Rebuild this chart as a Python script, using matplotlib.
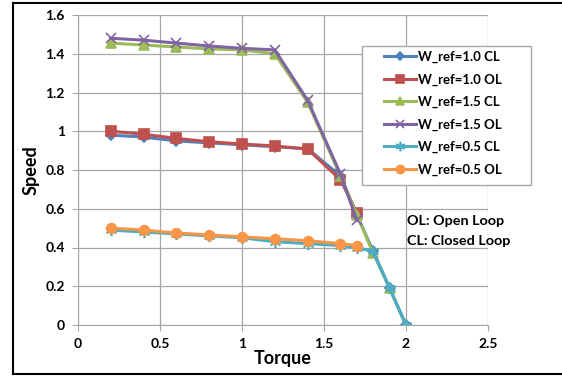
import matplotlib
matplotlib.use("Agg")
import matplotlib.pyplot as plt
from matplotlib.lines import Line2D
from matplotlib.patches import Rectangle

plt.rcParams['font.family'] = ['Lato', 'DejaVu Sans']

# data
torque_long = [0.2, 0.4, 0.6, 0.8, 1.0, 1.2, 1.4, 1.6, 1.7, 1.8, 1.9, 2.0]
torque_short = [0.2, 0.4, 0.6, 0.8, 1.0, 1.2, 1.4, 1.6, 1.7]

w10_cl = [0.98, 0.97, 0.95, 0.94, 0.93, 0.92, 0.91, 0.77, 0.57, 0.38, 0.19, 0.0]
w10_ol = [1.00, 0.985, 0.963, 0.946, 0.934, 0.924, 0.908, 0.75, 0.58]
w15_cl = [1.455, 1.445, 1.435, 1.425, 1.42, 1.40, 1.15, 0.77, 0.57, 0.37, 0.19, 0.0]
w15_ol = [1.48, 1.47, 1.455, 1.44, 1.428, 1.42, 1.16, 0.78, 0.54]
w05_cl = [0.49, 0.48, 0.47, 0.46, 0.45, 0.43, 0.42, 0.41, 0.40, 0.38, 0.19, 0.0]
w05_ol = [0.50, 0.49, 0.475, 0.465, 0.455, 0.445, 0.435, 0.42, 0.41]

series = [
    ("W_ref=1.0 CL", torque_long, w10_cl, "#4F81BD", "D", 5),
    ("W_ref=1.0 OL", torque_short, w10_ol, "#C0504D", "s", 7),
    ("W_ref=1.5 CL", torque_long, w15_cl, "#9BBB59", "^", 7),
    ("W_ref=1.5 OL", torque_short, w15_ol, "#8064A2", "x", 7),
    ("W_ref=0.5 CL", torque_long, w05_cl, "#4BACC6", (6, 2, 0), 8),
    ("W_ref=0.5 OL", torque_short, w05_ol, "#F79646", "o", 7),
]

fig = plt.figure(figsize=(5.62, 3.77), dpi=100)
ax = fig.add_axes([78 / 562, 1 - 325 / 377, 410 / 562, 310 / 377])

handles = []
for label, x, y, color, marker, ms in series:
    h, = ax.plot(x, y, color=color, lw=2.2, marker=marker, markersize=ms,
                 markeredgewidth=1.2, label=label)
    handles.append(h)

ax.set_xlim(0, 2.5)
ax.set_ylim(0, 1.6)
ax.set_xticks([0, 0.5, 1, 1.5, 2, 2.5])
ax.set_xticklabels(["0", "0.5", "1", "1.5", "2", "2.5"])
ax.set_yticks([0, 0.2, 0.4, 0.6, 0.8, 1.0, 1.2, 1.4, 1.6])
ax.set_yticklabels(["0", "0.2", "0.4", "0.6", "0.8", "1", "1.2", "1.4", "1.6"])
ax.grid(True, color="#a6a6a6", lw=0.9)
ax.set_axisbelow(True)
for s in ["top", "right"]:
    ax.spines[s].set_visible(False)
for s in ["left", "bottom"]:
    ax.spines[s].set_color("#a6a6a6")
ax.tick_params(direction="out", length=4.5, color="#a6a6a6", labelsize=10, pad=5)
for t in ax.get_xticklabels() + ax.get_yticklabels():
    t.set_fontweight("bold")

ax.set_xlabel("Torque", fontsize=13, fontweight="bold", labelpad=0)
ax.set_ylabel("Speed", fontsize=13, fontweight="bold", labelpad=4)

# legend box drawn separately so it can be wider than its entries (Excel style)
fig.add_artist(Rectangle((362 / 562, 1 - 185 / 377), 169 / 562, 139 / 377,
                         transform=fig.transFigure, facecolor="white",
                         edgecolor="#a6a6a6", lw=1, zorder=4))
leg = fig.legend(handles=handles, loc="upper left",
                 bbox_to_anchor=(384 / 562, 1 - 51 / 377),
                 fontsize=9.5, frameon=False,
                 labelspacing=0.78, handlelength=2.4, handletextpad=0.15,
                 borderpad=0, borderaxespad=0, markerscale=0.85)
for t in leg.get_texts():
    t.set_fontweight("bold")

fig.text(407 / 562, 1 - 221 / 377, "OL: Open Loop", fontsize=10.4,
         fontweight="bold", va="center")
fig.text(407 / 562, 1 - 241 / 377, "CL: Closed Loop", fontsize=10.4,
         fontweight="bold", va="center")

# outer chart border
x0, y0, y1 = 13 / 562, 1 - 374 / 377, 1 - 3 / 377
for xs, ys in [([x0, x0], [y0, y1]), ([x0, 1], [y1, y1]), ([x0, 1], [y0, y0])]:
    fig.add_artist(Line2D(xs, ys, color="black", lw=1.5, transform=fig.transFigure))

fig.savefig("out.png", dpi=100)
